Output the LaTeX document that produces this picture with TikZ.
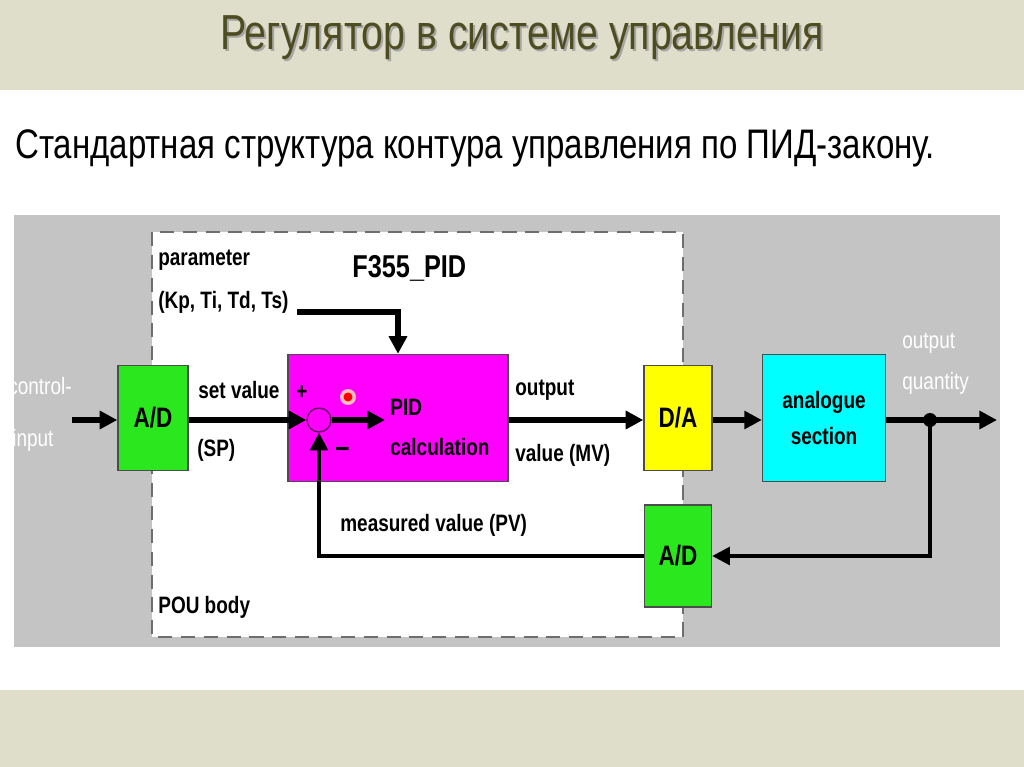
\documentclass[tikz,border=0pt]{standalone}
\usepackage{fontspec}
\setmainfont{Liberation Sans}
\newfontfamily\narrowfont[FakeStretch=0.8]{Liberation Sans}
\usetikzlibrary{arrows.meta}

\definecolor{band}{HTML}{DFDECB}
\definecolor{panel}{HTML}{C4C4C4}
\definecolor{titleol}{HTML}{4E4D22}
\definecolor{adgreen}{HTML}{2BE81E}
\definecolor{pidmag}{HTML}{FF00FF}
\definecolor{dayel}{HTML}{FFFF00}
\definecolor{anacyan}{HTML}{00FFFF}
\definecolor{pouline}{HTML}{6E6E6E}

\tikzset{
  blk/.style={draw=black!70, line width=0.8pt, inner sep=0pt, align=center,
    font=\narrowfont\bfseries\fontsize{16}{18}\selectfont},
  lbl/.style={anchor=west, inner sep=0pt, font=\narrowfont\bfseries\fontsize{13.5}{15}\selectfont},
  wlbl/.style={lbl, text=white, font=\narrowfont\fontsize{13.5}{15}\selectfont},
  sig/.style={line width=3pt, -{Triangle[length=10pt,width=10pt]}},
  fb/.style={line width=2pt, -{Triangle[length=10pt,width=10pt]}},
}

\begin{document}
\begin{tikzpicture}[x=0.02cm, y=-0.02cm]
    \useasboundingbox (0,0) rectangle (1024,767);

    % slide background
    \fill[white] (0,0) rectangle (1024,767);
    \fill[band] (0,0) rectangle (1024,90);
    \fill[band] (0,690) rectangle (1024,767);
    \node[text=black!35, font=\narrowfont\fontsize{28}{30}\selectfont] at (524,40) {Регулятор в системе управления};
    \node[text=titleol, font=\narrowfont\fontsize{28}{30}\selectfont] (title) at (522,38) {Регулятор в системе управления};
    \node[anchor=west, inner sep=0pt, font=\narrowfont\fontsize{23.5}{26}\selectfont] (subtitle) at (15,148)
        {Стандартная структура контура управления по ПИД-закону.};

    % diagram panel and POU body
    \fill[panel] (14,215) rectangle (1000,647);
    \draw[fill=white, draw=pouline, line width=1.2pt, dash pattern=on 8pt off 5pt] (152,232) rectangle (683,637);

    % blocks
    \node[blk, fill=adgreen, minimum width=1.4cm, minimum height=2.1cm] (adc) at (153,418) {A/D};
    \node[blk, fill=pidmag, minimum width=4.4cm, minimum height=2.54cm] (pid) at (398,418) {};
    \node[blk, fill=dayel, minimum width=1.36cm, minimum height=2.1cm] (dac) at (678,418) {D/A};
    \node[blk, fill=anacyan, minimum width=2.46cm, minimum height=2.54cm, font=\narrowfont\bfseries\fontsize{13.5}{21}\selectfont] (ana) at (824,418) {analogue\\section};
    \node[blk, fill=adgreen, minimum width=1.34cm, minimum height=2.04cm] (adcfb) at (678,556) {A/D};

    % summing point inside the PID block
    \node[circle, draw=violet!80!black, line width=0.8pt, minimum size=0.48cm, inner sep=0pt] (sum) at (319,420) {};
    \coordinate (pidin) at (385,420);
    \fill[red!25] (348,397) circle (8);
    \fill[red] (348,397) circle (4.5);

    % signal path
    \coordinate (cin) at (72,420);
    \coordinate (prm) at (297,312);
    \coordinate (jn) at (930,420);
    \coordinate (qout) at (997,420);
    \draw[sig] (cin) -- (cin -| adc.west);
    \draw[sig] (sum.west -| adc.east) -- (sum.west);
    \draw[sig] (sum.east) -- (pidin);
    \draw[sig] (prm) -| (pid.north);
    \draw[sig] (pidin -| pid.east) -- (pidin -| dac.west);
    \draw[sig] (pidin -| dac.east) -- (pidin -| ana.west);
    \draw[sig] (pidin -| ana.east) -- (qout);
    \fill (jn) circle (7);

    % feedback path
    \draw[fb] (jn) |- (adcfb.east);
    \draw[fb] (adcfb.west) -| (sum.south);

    % labels
    \node[wlbl] (ctl1) at (8,386) {control-};
    \node[wlbl] (ctl2) at (12,440) {input};
    \node[lbl] (prm1) at (158,260) {parameter};
    \node[lbl] (prm2) at (158,302) {(Kp, Ti, Td, Ts)};
    \node[lbl, font=\narrowfont\bfseries\fontsize{18}{20}\selectfont] (fname) at (352,268) {F355\_PID};
    \node[lbl] (sp1) at (198,390) {set value};
    \node[lbl] (sp2) at (197,450) {(SP)};
    \node[lbl] (plus) at (296,393) {+};
    \node[lbl, font=\narrowfont\bfseries\fontsize{18}{20}\selectfont] (minus) at (335,452) {–};
    \node[lbl] (pid1) at (390,407) {PID};
    \node[lbl] (pid2) at (390,447) {calculation};
    \node[lbl] (mv1) at (515,390) {output};
    \node[lbl] (mv2) at (515,455) {value (MV)};
    \node[wlbl] (oq1) at (902,343) {output};
    \node[wlbl] (oq2) at (902,383) {quantity};
    \node[lbl] (pv) at (340,525) {measured value (PV)};
    \node[lbl] (pou) at (158,607) {POU body};
\end{tikzpicture}
\end{document}
